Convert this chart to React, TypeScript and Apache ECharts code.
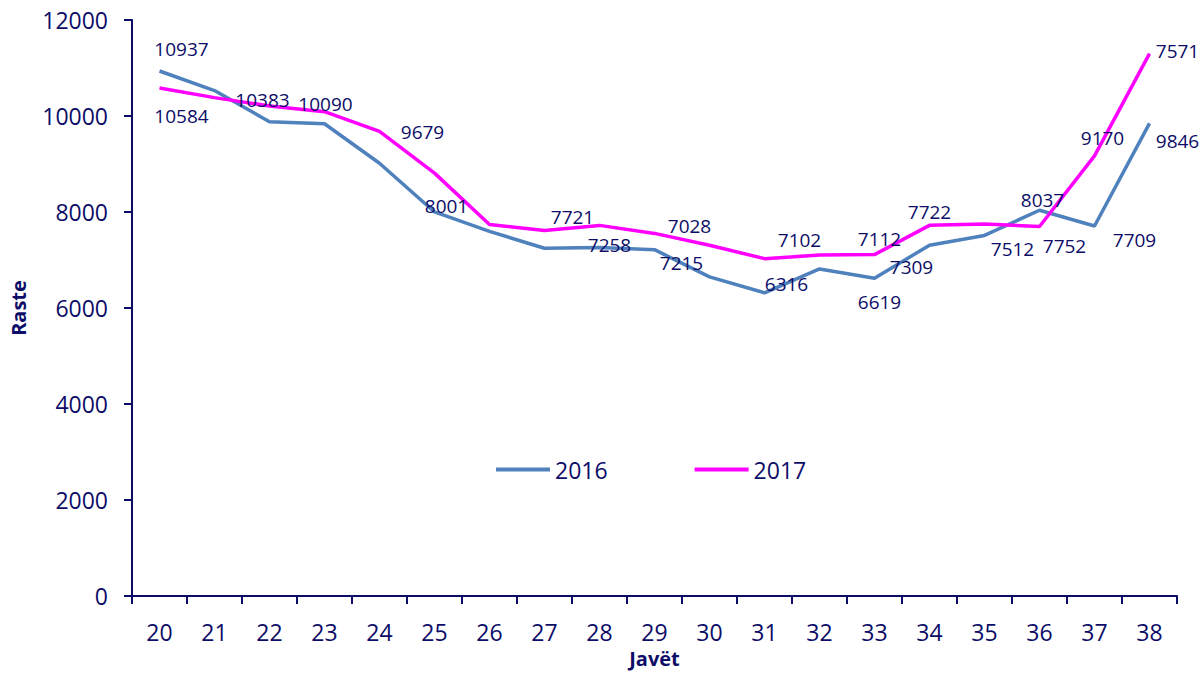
import React, { useEffect, useRef } from "react";
import * as echarts from "echarts";

const weeks = ["20", "21", "22", "23", "24", "25", "26", "27", "28", "29", "30", "31", "32", "33", "34", "35", "36", "37", "38"];
const values2016 = [10937, 10530, 9880, 9839, 9015, 8001, 7595, 7245, 7258, 7215, 6648, 6316, 6813, 6619, 7309, 7512, 8037, 7709, 9846];
const values2017 = [10584, 10383, 10209, 10090, 9679, 8810, 7739, 7616, 7721, 7554, 7307, 7028, 7102, 7112, 7722, 7752, 7698, 9170, 11300];
const labels2016 = ["10937", "", "", "", "", "8001", "", "", "7258", "7215", "", "6316", "", "6619", "7309", "7512", "8037", "7709", "9846"];
const labels2017 = ["10584", "10383", "", "10090", "9679", "", "", "", "7721", "", "", "7028", "7102", "7112", "7722", "7752", "", "9170", "7571"];
const yTicks = { min: 0, max: 12000, interval: 2000 };

// label placement (layout only)
const offsets2016: number[][] = [[22, -22], [0, 0], [0, 0], [0, 0], [0, 0], [12, -6], [0, 0], [0, 0], [10, -3], [27, 13], [0, 0], [22, -9], [0, 0], [5, 24], [-18, 22], [28, 14], [3, -10], [40, 14], [28, 18]];
const offsets2017: number[][] = [[22, 28], [48, 2], [0, 0], [1, -8], [43, 1], [0, 0], [0, 0], [0, 0], [-27, -8], [0, 0], [0, 0], [-75, -33], [-20, -15], [5, -16], [0, -13], [80, 22], [0, 0], [8, -18], [28, -3]];

const NAVY = "#0d0d68";
const BLUE = "#4f81bd";
const MAGENTA = "#ff00ff";
const FONT = "'Open Sans', sans-serif";

function buildData(values: number[], labels: string[], offsets: number[][]) {
  return values.map((v, i) => ({
    value: v,
    label: labels[i]
      ? {
          show: true,
          position: "inside",
          offset: offsets[i],
          formatter: labels[i],
          color: NAVY,
          fontSize: 19,
          fontFamily: FONT,
        }
      : { show: false },
  }));
}

export default function App() {
  const ref = useRef<HTMLDivElement>(null);
  useEffect(() => {
    if (!ref.current) return;
    const chart = echarts.init(ref.current, undefined, { renderer: "svg" });
    chart.setOption({
      animation: false,
      backgroundColor: "#ffffff",
      grid: { left: 132, right: 25, top: 20, bottom: 70, containLabel: false },
      legend: {
        left: 491,
        top: 453,
        icon: "rect",
        itemWidth: 54,
        itemHeight: 4,
        itemGap: 87,
        textStyle: { color: NAVY, fontSize: 23, fontFamily: FONT },
        data: [
          { name: "2016", itemStyle: { color: BLUE } },
          { name: "2017", itemStyle: { color: MAGENTA } },
        ],
      },
      xAxis: {
        type: "category",
        data: weeks,
        boundaryGap: true,
        name: "Javët",
        nameLocation: "middle",
        nameGap: 52,
        nameTextStyle: { color: NAVY, fontSize: 20, fontWeight: "bold", fontFamily: FONT },
        axisLine: { show: true, lineStyle: { color: NAVY, width: 2 } },
        axisTick: { show: true, length: 8, lineStyle: { color: NAVY, width: 2 } },
        axisLabel: { color: NAVY, fontSize: 23, fontFamily: FONT, margin: 24 },
        splitLine: { show: false },
      },
      yAxis: {
        type: "value",
        min: yTicks.min,
        max: yTicks.max,
        interval: yTicks.interval,
        name: "Raste",
        nameLocation: "middle",
        nameGap: 104,
        nameTextStyle: { color: NAVY, fontSize: 20, fontWeight: "bold", fontFamily: FONT },
        axisLine: { show: true, lineStyle: { color: NAVY, width: 2 } },
        axisTick: { show: true, length: 8, lineStyle: { color: NAVY, width: 2 } },
        axisLabel: {
          color: NAVY,
          fontSize: 23,
          fontFamily: FONT,
          margin: 24,
          formatter: (v: number) => String(v),
        },
        splitLine: { show: false },
      },
      series: [
        {
          name: "2016",
          type: "line",
          symbol: "circle",
          symbolSize: 0.01,
          showSymbol: true,
          itemStyle: { color: BLUE },
          lineStyle: { color: BLUE, width: 3.5 },
          data: buildData(values2016, labels2016, offsets2016),
        },
        {
          name: "2017",
          type: "line",
          symbol: "circle",
          symbolSize: 0.01,
          showSymbol: true,
          itemStyle: { color: MAGENTA },
          lineStyle: { color: MAGENTA, width: 3.5 },
          data: buildData(values2017, labels2017, offsets2017),
        },
      ],
    });
    return () => chart.dispose();
  }, []);
  return (
    <div
      ref={ref}
      style={{ position: "fixed", left: 0, top: 0, width: 1202, height: 673, background: "#fff" }}
    />
  );
}
